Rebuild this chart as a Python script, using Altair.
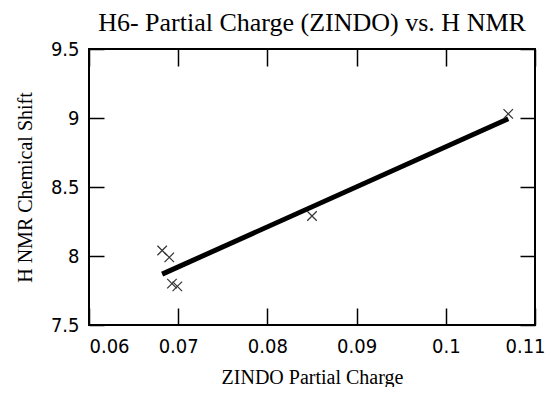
import altair as alt
import pandas as pd

charge = [0.0682, 0.0690, 0.0693, 0.0699, 0.0850, 0.1070]
shift = [8.04, 7.99, 7.80, 7.78, 8.29, 9.03]
x_ticks = [0.06, 0.07, 0.08, 0.09, 0.10, 0.11]
y_ticks = [7.5, 8.0, 8.5, 9.0, 9.5]

df = pd.DataFrame({"charge": charge, "shift": shift})

SERIF = "Liberation Serif"
NUM = "Liberation Sans Narrow, DejaVu Sans Condensed, Liberation Sans, sans-serif"

xs = alt.Scale(domain=[0.06, 0.11], nice=False, zero=False)
ys = alt.Scale(domain=[7.5, 9.5], nice=False, zero=False)

x_axis = alt.Axis(values=x_ticks, title="ZINDO Partial Charge", grid=False, domain=False,
                  tickSize=17, offset=-17, tickColor="black", tickWidth=1.5, format="~g",
                  labelFont=NUM, labelFontSize=20, labelColor="black", labelPadding=11,
                  labelOffset={"condition": [{"test": "datum.value == 0.06", "value": 20},
                                             {"test": "datum.value == 0.11", "value": -10}], "value": 0},
                  titleFont=SERIF, titleFontSize=20, titleFontWeight="normal", titleColor="black",
                  titlePadding=11, labelFlush=False)
y_axis = alt.Axis(values=y_ticks, title="H NMR  Chemical Shift", grid=False, domain=False,
                  tickSize=15, offset=-15, tickColor="black", tickWidth=1.5, format="~g",
                  labelFont=NUM, labelFontSize=20, labelColor="black", labelPadding=10,
                  titleFont=SERIF, titleFontSize=20, titleFontWeight="normal", titleColor="black",
                  titlePadding=15, labelFlush=False)
x_axis_top = alt.Axis(values=x_ticks, orient="top", title=None, labels=False, grid=False, domain=False,
                      tickSize=17, offset=-17, tickColor="black", tickWidth=1.5)
y_axis_right = alt.Axis(values=y_ticks, orient="right", title=None, labels=False, grid=False, domain=False,
                        tickSize=15, offset=-15, tickColor="black", tickWidth=1.5)

base = alt.Chart(df)

pts = base.mark_point(shape="M-1,-1L1,1M1,-1L-1,1", size=90, filled=False, strokeWidth=1.2,
                      color="#333333", opacity=1).encode(
    x=alt.X("charge:Q", scale=xs, axis=x_axis),
    y=alt.Y("shift:Q", scale=ys, axis=y_axis),
)

line = base.transform_regression("charge", "shift").mark_line(color="black", strokeWidth=5).encode(
    x=alt.X("charge:Q", scale=xs, axis=x_axis_top),
    y=alt.Y("shift:Q", scale=ys, axis=y_axis_right),
)

chart = alt.layer(line, pts).resolve_axis(x="independent", y="independent").properties(
    width=446, height=276,
    autosize=alt.AutoSizeParams(type="none"),
    padding={"left": 81, "top": 41, "right": 12, "bottom": 62},
    title=alt.TitleParams("H6- Partial Charge (ZINDO) vs. H NMR", font=SERIF, fontSize=26,
                          fontWeight="normal", color="black", offset=3, anchor="middle"),
).configure(background="white").configure_view(stroke="black", strokeWidth=2)

chart.save("out.html", embed_options={"renderer": "svg", "actions": False})
